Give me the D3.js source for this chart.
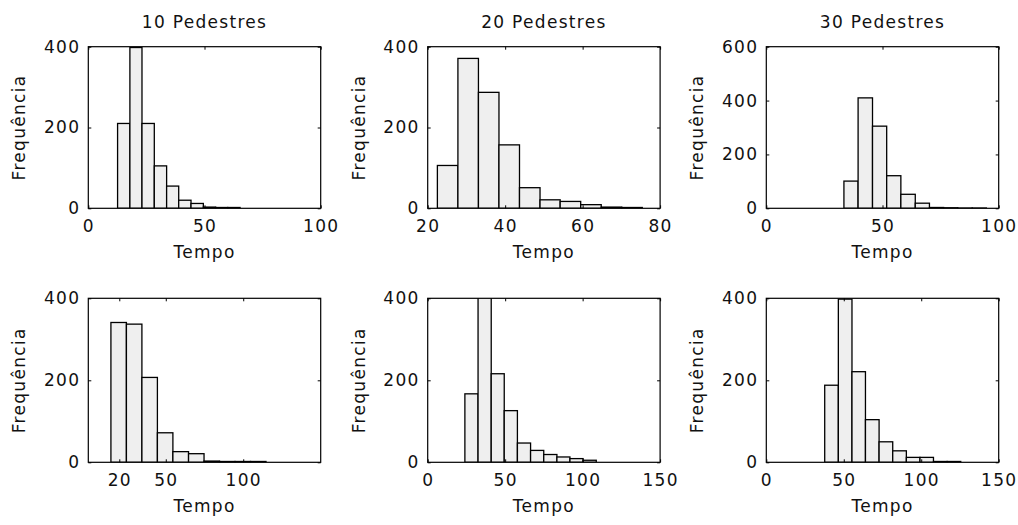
<!DOCTYPE html>
<html lang="en">
<head>
<meta charset="UTF-8">
<title>Histogramas - Tempo por numero de pedestres</title>
<script src="https://d3js.org/d3.v7.min.js"></script>
<style>
    body { margin: 0; background: #fff; }
    svg text {
        font-family: "DejaVu Sans", sans-serif;
        fill: #111;
        letter-spacing: 1.3px;
    }
</style>
</head>
<body>
<div id="chart"></div>
<script>
    // panel titles (only top row has them)
    const titles = ["10 Pedestres", "20 Pedestres", "30 Pedestres", "", "", ""];

    // bin edges (11 edges -> 10 bins each)
    const edgesA = [12.6, 17.9, 23.1, 28.4, 33.7, 38.9, 44.2, 49.5, 54.8, 60.0, 65.3];
    const edgesB = [22.5, 27.8, 33.1, 38.4, 43.7, 49.0, 54.2, 59.5, 64.8, 70.1, 75.4];
    const edgesC = [33.4, 39.5, 45.7, 51.8, 57.9, 64.1, 70.2, 76.3, 82.4, 88.6, 94.7];
    const edgesD = [14.6, 24.6, 34.6, 44.6, 54.6, 64.7, 74.7, 84.7, 94.7, 104.7, 114.7];
    const edgesE = [24.0, 32.5, 41.0, 49.4, 57.9, 66.4, 74.9, 83.4, 91.8, 100.3, 108.8];
    const edgesF = [37.7, 46.5, 55.3, 64.0, 72.8, 81.6, 90.4, 99.2, 107.9, 116.7, 125.5];

    // frequencies per bin
    const countsA = [210, 398, 210, 105, 55, 20, 12, 3, 2, 2];
    const countsB = [106, 371, 287, 157, 51, 21, 17, 9, 3, 2];
    const countsC = [101, 410, 305, 121, 52, 19, 3, 2, 1, 1];
    const countsD = [341, 337, 207, 72, 26, 21, 3, 2, 2, 2];
    const countsE = [167, 430, 216, 126, 47, 29, 19, 13, 9, 5];
    const countsF = [188, 398, 221, 104, 50, 28, 12, 12, 2, 2];

    // axis limits and tick labels
    const xDomains = [[0, 100], [20, 80], [0, 100], [0, 150], [0, 150], [0, 150]];
    const xTicks = [[0, 50, 100], [20, 40, 60, 80], [0, 50, 100], [20, 50, 100], [0, 50, 100, 150], [0, 50, 100, 150]];
    const yDomains = [[0, 400], [0, 400], [0, 600], [0, 400], [0, 400], [0, 400]];
    const yTicks = [[0, 200, 400], [0, 200, 400], [0, 200, 400, 600], [0, 200, 400], [0, 200, 400], [0, 200, 400]];

    const allEdges = [edgesA, edgesB, edgesC, edgesD, edgesE, edgesF];
    const allCounts = [countsA, countsB, countsC, countsD, countsE, countsF];

    const W = 1018, H = 525;
    const colLeft = [88.3, 427.7, 766.3];
    const plotW = 232.4;
    const rowTop = [46.7, 298.3];
    const rowH = [161.6, 164];
    const tickLen = 3;

    const svg = d3.select("#chart")
        .append("svg")
        .attr("width", W)
        .attr("height", H)
        .style("display", "block");

    svg.append("rect").attr("width", W).attr("height", H).attr("fill", "#fff");

    for (let p = 0; p < 6; p++) {
        const col = p % 3, row = Math.floor(p / 3);
        const x0 = colLeft[col], y0 = rowTop[row], h = rowH[row];

        const x = d3.scaleLinear().domain(xDomains[p]).range([0, plotW]);
        const y = d3.scaleLinear().domain(yDomains[p]).range([h, 0]);

        const g = svg.append("g").attr("transform", `translate(${x0},${y0})`);

        g.append("clipPath").attr("id", "clip" + p)
            .append("rect").attr("width", plotW).attr("height", h);

        const bins = allCounts[p].map((c, i) => ({
            x0: allEdges[p][i],
            x1: allEdges[p][i + 1],
            n: c
        }));

        g.append("g")
            .attr("clip-path", `url(#clip${p})`)
            .selectAll("rect")
            .data(bins)
            .join("rect")
            .attr("x", d => x(d.x0))
            .attr("y", d => y(d.n))
            .attr("width", d => x(d.x1) - x(d.x0))
            .attr("height", d => y(0) - y(d.n))
            .attr("fill", "#efefef")
            .attr("stroke", "#000")
            .attr("stroke-width", 1.3);

        // axes: inward ticks on all four sides (box)
        const fmt = d3.format("d");
        g.append("g").attr("transform", `translate(0,${h})`)
            .call(d3.axisBottom(x).tickValues(xTicks[p]).tickSizeInner(-tickLen).tickSizeOuter(0).tickPadding(12).tickFormat(fmt));
        g.append("g")
            .call(d3.axisTop(x).tickValues(xTicks[p]).tickSizeInner(-tickLen).tickSizeOuter(0).tickFormat(""));
        g.append("g")
            .call(d3.axisLeft(y).tickValues(yTicks[p]).tickSizeInner(-tickLen).tickSizeOuter(0).tickPadding(8).tickFormat(fmt));
        g.append("g").attr("transform", `translate(${plotW},0)`)
            .call(d3.axisRight(y).tickValues(yTicks[p]).tickSizeInner(-tickLen).tickSizeOuter(0).tickFormat(""));

        g.selectAll(".domain").remove();
        g.selectAll(".tick line").attr("stroke", "#000");
        g.selectAll(".tick text").style("font-size", "17px").attr("fill", "#111");

        g.append("rect")
            .attr("width", plotW)
            .attr("height", h)
            .attr("fill", "none")
            .attr("stroke", "#000")
            .attr("stroke-width", 1.2);

        // labels
        g.append("text")
            .attr("x", plotW / 2)
            .attr("y", h + 50)
            .attr("text-anchor", "middle")
            .style("font-size", "17px")
            .text("Tempo");

        g.append("text")
            .attr("transform", `translate(-63,${h / 2}) rotate(-90)`)
            .attr("text-anchor", "middle")
            .style("font-size", "17px")
            .text("Frequência");

        if (titles[p]) {
            g.append("text")
                .attr("x", plotW / 2)
                .attr("y", 28.3 - y0)
                .attr("text-anchor", "middle")
                .style("font-size", "17px")
                .text(titles[p]);
        }
    }
</script>
</body>
</html>
